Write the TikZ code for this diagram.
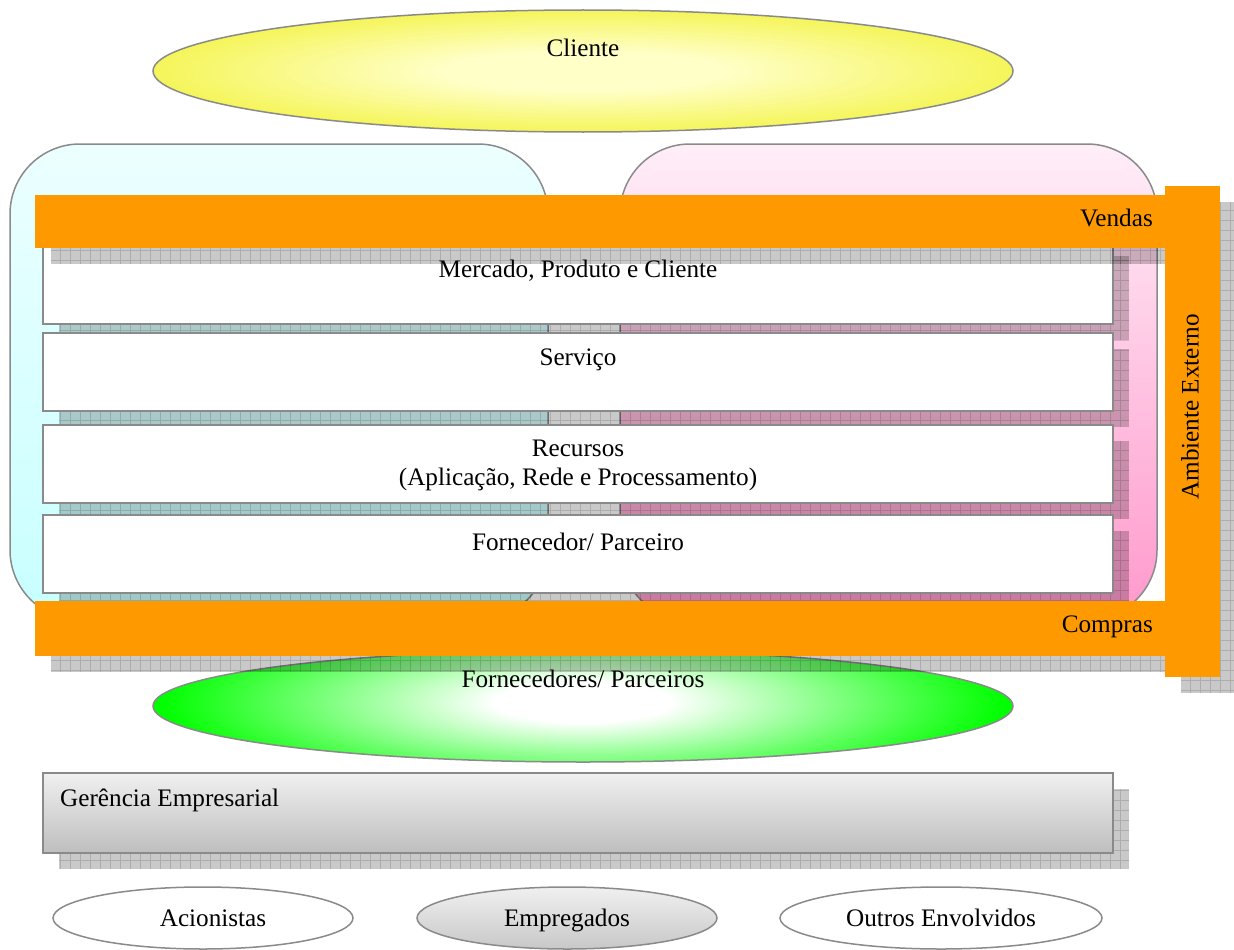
\documentclass[tikz,border=0pt]{standalone}
\usepackage{fontspec}
\setmainfont{Liberation Serif}
\usetikzlibrary{shapes.geometric}

\definecolor{linegray}{RGB}{138,138,138}
\definecolor{barorange}{RGB}{255,153,0}
\definecolor{cyantop}{RGB}{236,255,255}
\definecolor{cyanbot}{RGB}{200,255,255}
\definecolor{pinktop}{RGB}{255,238,248}
\definecolor{pinkbot}{RGB}{255,153,204}
\definecolor{ylwin}{RGB}{255,255,200}
\definecolor{ylwout}{RGB}{245,245,90}
\definecolor{grnin}{RGB}{255,255,255}
\definecolor{grnout}{RGB}{0,255,0}
\definecolor{graytop}{RGB}{240,240,240}
\definecolor{graybot}{RGB}{190,190,190}

\pgfdeclareradialshading{yellowglow}{\pgfpoint{0bp}{0bp}}%
  {color(0bp)=(ylwin); color(8bp)=(ylwin); color(25bp)=(ylwout); color(50bp)=(ylwout)}
\pgfdeclareradialshading{greenglow}{\pgfpoint{0bp}{0bp}}%
  {color(0bp)=(grnin); color(5bp)=(grnin); color(24bp)=(grnout); color(50bp)=(grnout)}

% hatched drop shadow: translucent grey with a square grid on top
\newcommand\gridshadow[4]{%
  \begin{scope}
    \clip (#1,#2) rectangle (#3,#4);
    \fill[black, fill opacity=0.21] (#1,#2) rectangle (#3,#4);
    \draw[black, draw opacity=0.14, line width=0.9pt, step=10pt] (#1,#2) grid (#3,#4);
  \end{scope}}

\begin{document}
\begin{tikzpicture}[x=1pt, y=-1pt,
  font=\fontsize{25.2}{29.5}\selectfont,
  outline/.style={draw=linegray, line width=1.5pt},
  oval/.style={outline, ellipse, inner sep=0pt, text height=19pt, text depth=2pt},
  panel/.style={outline, rectangle, rounded corners=70pt, inner sep=0pt},
  rowbox/.style={outline, fill=white, rectangle, inner sep=0pt,
    minimum width=1070pt, minimum height=78pt},
  bar/.style={fill=barorange, rectangle, inner sep=0pt},
  txt/.style={inner sep=0pt, align=center}]
\useasboundingbox (0,0) rectangle (1234,950);

% customer on top
\node[oval, shade, shading=yellowglow, minimum width=860pt, minimum height=122pt] (cliente) at (583,71) {};
\node[txt] (clientetxt) at (583,48) {Cliente};

% two background panels
\node[panel, top color=cyantop, bottom color=cyanbot, minimum width=538pt, minimum height=476pt] (leftpanel) at (279,382) {};
\node[panel, top color=pinktop, bottom color=pinkbot, minimum width=537pt, minimum height=476pt] (rightpanel) at (888.5,382) {};

% layered rows
\gridshadow{59}{256}{1129}{340}
\node[rowbox, minimum height=84pt] (mercado) at (578,282) {};
\node[txt] (mercadotxt) at (578,271) {Mercado, Produto e Cliente};

\gridshadow{59}{349}{1129}{427}
\node[rowbox] (servico) at (578,372) {};
\node[txt] (servicotxt) at (578,360) {Serviço};

\gridshadow{59}{441}{1129}{519}
\node[rowbox] (recursos) at (578,464) {};
\node[txt] (recursostxt) at (578,465.5) {Recursos\\(Aplicação, Rede e Processamento)};

\gridshadow{59}{531}{1129}{609}
\node[rowbox] (fornecedor) at (578,554) {};
\node[txt] (fornecedortxt) at (578,542) {Fornecedor/ Parceiro};

% suppliers: glow clipped to the ellipse, then its outline
\begin{scope}
  \clip (583,706) ellipse [x radius=430, y radius=56];
  \shade[shading=greenglow] (583,702) ellipse [x radius=440, y radius=100];
\end{scope}
\node[oval, minimum width=860pt, minimum height=112pt] (fornecedores) at (583,706) {};
\node[txt] (fornecedorestxt) at (583,679) {Fornecedores/ Parceiros};

% sales bar
\gridshadow{51}{211}{1181}{264}
\node[bar, minimum width=1130pt, minimum height=53pt] (vendas) at (600,221.5) {};
\node[txt, anchor=east] (vendastxt) at (1153,218) {Vendas};

% purchasing bar
\gridshadow{51}{617}{1181}{672}
\node[bar, minimum width=1130pt, minimum height=55pt] (compras) at (600,628.5) {};
\node[txt, anchor=east] (comprastxt) at (1153,627) {Compras};

% external environment bar
\gridshadow{1181}{202}{1236}{693}
\node[bar, minimum width=55pt, minimum height=491pt] (ambiente) at (1192.5,431.5) {};
\node[txt, rotate=90] (ambientetxt) at (1190,407) {Ambiente Externo};

% management
\gridshadow{59}{789}{1129}{869}
\node[outline, rectangle, inner sep=0pt, top color=graytop, bottom color=graybot,
  minimum width=1070pt, minimum height=80pt] (gerencia) at (578,813) {};
\node[txt, anchor=west] (gerenciatxt) at (60,800) {Gerência Empresarial};

% stakeholders
\node[oval, fill=white, minimum width=300pt, minimum height=62pt] (acionistas) at (203,918) {};
\node[txt] (acionistastxt) at (213,918) {Acionistas};
\node[oval, top color=graytop, bottom color=graybot!85!white, minimum width=300pt, minimum height=62pt] (empregados) at (567,918) {Empregados};
\node[oval, fill=white, minimum width=322pt, minimum height=62pt] (outros) at (941,918) {Outros Envolvidos};
\end{tikzpicture}
\end{document}
